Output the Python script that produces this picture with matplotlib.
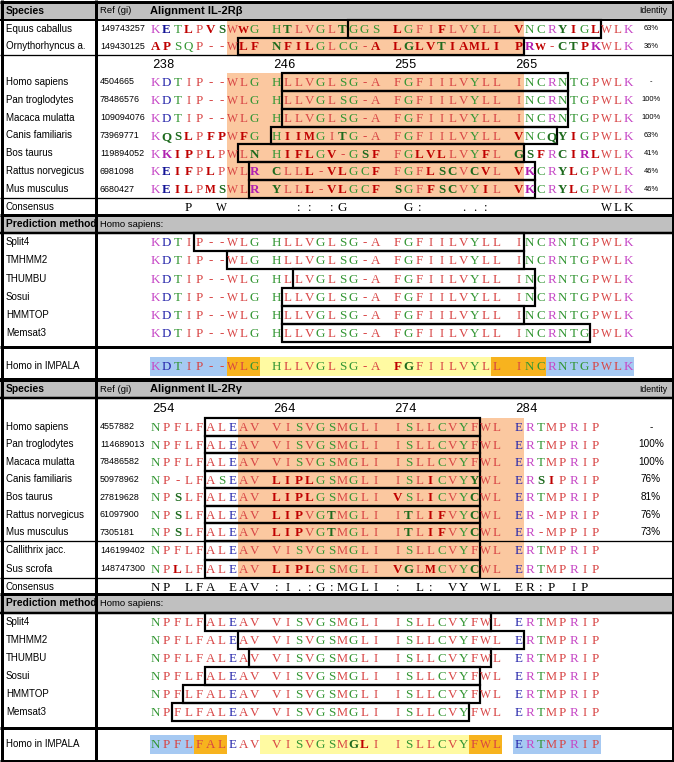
import matplotlib.pyplot as plt
from matplotlib.patches import Rectangle

# ---------------- IL-2R beta ----------------
beta_species = ['Equus caballus', 'Ornythorhyncus a.', 'Homo sapiens', 'Pan troglodytes',
                'Macaca mulatta', 'Canis familiaris', 'Bos taurus', 'Rattus norvegicus',
                'Mus musculus']
beta_refs = ['149743257', '149430125', '4504665', '78486576', '109094076', '73969771',
             '119894052', '6981098', '6680427']
beta_seqs = [
    'KETLPVSWWG HTLVGLTGGS LGFIFLVYLL VNCRYIGLWLK',
    'APSQP--WLF NFILGLCG-A LGLVTIAMLI PRW-CTPKWLK',
    'KDTIP--WLG HLLVGLSG-A FGFIILVYLL INCRNTGPWLK',
    'KDTIP--WLG HLLVGLSG-A FGFIILVYLL INCRNTGPWLK',
    'KDTIP--WLG HLLVGLSG-A FGFIILVYLL INCRNTGPWLK',
    'KQSLPFPWFG HIIMGITG-A FGFIILVYLL VNCQYIGPWLK',
    'KKIPPLPWLN HIFLGV-GSF FGLVLLVYFL GSFRCIRLWLK',
    'KEIFPLPWLR CLLL-VLGCF FGFLSCVCVL VKCRYLGPWLK',
    'KEILPMSWLR YLLL-VLGCF SGFFSCVYIL VKCRYLGPWLK',
]
# residue columns printed in bold (differences to human)
beta_bold = [
    [1, 3, 5, 6, 8, 12, 17, 22, 26, 33, 37, 38, 40],
    [0, 1, 8, 9, 11, 12, 13, 14, 20, 22, 23, 24, 25, 26, 27, 28, 29, 30, 31,
     33, 34, 35, 37, 38, 39, 40],
    [], [], [],
    [1, 2, 3, 5, 6, 8, 12, 13, 14, 17, 33, 36, 37, 38],
    [1, 2, 3, 5, 9, 12, 13, 14, 16, 19, 20, 24, 25, 26, 30, 33, 34, 35, 37, 38, 39, 40],
    [1, 2, 3, 5, 9, 11, 14, 16, 17, 20, 25, 26, 27, 29, 30, 33, 34, 37, 38],
    [1, 2, 3, 5, 6, 9, 11, 14, 16, 17, 20, 22, 25, 26, 27, 30, 33, 34, 37, 38],
]
beta_identity = ['63%', '36%', '-', '100%', '100%', '63%', '41%', '46%', '46%']
beta_tm = [(18, 41), (8, 34), (12, 38), (12, 38), (12, 38), (11, 37), (8, 34), (9, 35), (9, 35)]
beta_core = (7, 34)
beta_numbers = [(0, '238'), (11, '246'), (22, '255'), (33, '265')]
beta_consensus = '   P  W      :: :G     G:   ..:          WLK'
beta_human = 'KDTIP--WLG HLLVGLSG-A FGFIILVYLL INCRNTGPWLK'
beta_pred_tm = [(4, 34), (7, 34), (13, 35), (12, 35), (12, 34), (12, 40)]
beta_impala = [(0, 7, 'out'), (7, 10, 'edge'), (10, 31, 'core'), (31, 36, 'edge'), (36, 44, 'out')]
beta_impala_bold = [22, 23]

# ---------------- IL-2R gamma ----------------
gamma_species = ['Homo sapiens', 'Pan troglodytes', 'Macaca mulatta', 'Canis familiaris',
                 'Bos taurus', 'Rattus norvegicus', 'Mus musculus', 'Callithrix jacc.',
                 'Sus scrofa']
gamma_refs = ['4557882', '114689013', '78486582', '50978962', '27819628', '61097900',
              '7305181', '146199402', '148747300']
gamma_seqs = [
    'NPFLFALEAV VISVGSMGLI ISLLCVYFWL ERTMPRIP',
    'NPFLFALEAV VISVGSMGLI ISLLCVYFWL ERTMPRIP',
    'NPFLFALEAV VISVGSMGLI ISLLCVYFWL ERTMPRIP',
    'NP-LFASEAV LIPLGSMGLI ISLICVYYWL ERSIPRIP',
    'NPSLFALEAV LIPLGSMGLI VSLICVYCWL ERTMPRIP',
    'NPSLFALEAV LIPVGTMGLI ITLIFVYCWL ER-MPRIP',
    'NPSLFALEAV LIPVGTMGLI ITLIFVYCWL ER-MPPIP',
    'NPFLFALEAV VISVGSMGLI ISLLCVYFWL ERTMPRIP',
    'NPLLFALEAV LIPLGSMGLI VGLMCVYCWL ERTMPRIP',
]
gamma_bold = [
    [], [], [],
    [11, 12, 13, 14, 25, 29, 35, 36],
    [2, 11, 12, 13, 14, 22, 25, 29],
    [2, 11, 12, 13, 16, 23, 25, 26, 29],
    [2, 11, 12, 13, 16, 23, 25, 26, 29],
    [],
    [2, 11, 12, 13, 14, 22, 23, 25, 29],
]
gamma_identity = ['-', '100%', '100%', '76%', '81%', '76%', '73%', '', '']
gamma_tm = [(5, 30)] * 9
gamma_core = (8, 34)
gamma_numbers = [(0, '254'), (11, '264'), (22, '274'), (33, '284')]
gamma_consensus = 'NP LFA EAV :I.:G:MGLI : L: VY WL ER:P IP'
gamma_human = 'NPFLFALEAV VISVGSMGLI ISLLCVYFWL ERTMPRIP'
gamma_pred_tm = [(5, 31), (8, 34), (9, 31), (5, 30), (3, 30), (2, 29)]
gamma_impala = [(0, 4, 'out'), (4, 7, 'edge'), (10, 29, 'core'), (29, 32, 'edge'), (33, 41, 'out')]
gamma_impala_bold = [18, 19]

methods = ['Split4', 'TMHMM2', 'THUMBU', 'Sosui', 'HMMTOP', 'Memsat3']

# ---------------- styling ----------------
W, H = 674, 762
X0, PITCH = 150, 11
SEQ_FONT = 'Liberation Serif'
LAB_FONT = 'Liberation Sans'
GRAY = '#C0C0C0'
TM_FILL = '#FBC8A0'
IMPALA_COLORS = {'out': '#A6C9F2', 'edge': '#F7B31E', 'core': '#FFFAA2'}

REG = {'red': '#D84444', 'green': '#339633', 'blue': '#2828AC', 'mag': '#C647C6'}
BLD = {'red': '#BF0000', 'green': '#1D6A1D', 'blue': '#141496', 'mag': '#B020B0'}
GROUPS = {}
for aa in 'AVFPMILW-':
    GROUPS[aa] = 'red'
for aa in 'DE':
    GROUPS[aa] = 'blue'
for aa in 'RK':
    GROUPS[aa] = 'mag'
for aa in 'STYHCNGQ':
    GROUPS[aa] = 'green'

# wide glyphs get a smaller size so they stay inside one column
WIDE_SIZE = {('W', False): 8.4, ('M', False): 8.9, ('W', True): 7.9, ('M', True): 8.3}

fig = plt.figure(figsize=(W / 100, H / 100), dpi=100)
ax = fig.add_axes([0, 0, 1, 1])
ax.set_xlim(0, W)
ax.set_ylim(H, 0)
ax.axis('off')


def px(v):
    return v * 0.72


def cx(c):
    return X0 + c * PITCH


def draw_residues(yc, seq, bold=(), black=False):
    for i, ch in enumerate(seq):
        if ch == ' ':
            continue
        b = i in bold
        if black:
            col = 'black'
        else:
            g = GROUPS.get(ch, 'red')
            col = BLD[g] if b else REG[g]
        size = WIDE_SIZE.get((ch, b), 9.4)
        ax.text(cx(i) + PITCH / 2, yc + 4.2, ch, ha='center', va='baseline',
                fontsize=size, family=SEQ_FONT, color=col,
                fontweight='bold' if b else 'normal')


def label(x, y, s, size=7.0, **kw):
    return ax.text(x, y, s, ha=kw.pop('ha', 'left'), va='center', fontsize=size,
                   family=LAB_FONT, **kw)


def hline(y, lw):
    ax.plot([0, W], [y, y], color='black', lw=px(lw), solid_capstyle='butt')


clip_left = Rectangle((0, 0), 95, H, transform=ax.transData)


def header(y0, y1, left, mid, right=None, title=None):
    ax.add_patch(Rectangle((0, y0), W, y1 - y0, color=GRAY, lw=0))
    yc = (y0 + y1) / 2
    t = label(6, yc, left, size=7.4, fontweight='bold')
    t.set_clip_path(clip_left)
    label(100, yc, mid, size=6.8)
    if title:
        label(X0, yc, title, size=8, fontweight='bold')
    if right:
        label(667, yc, right, size=6.3, ha='right')


def alignment_rows(tops, h, species, refs, seqs, bold, ident, tm, core, id_size):
    for k, top in enumerate(tops):
        yc = top + h / 2
        ax.add_patch(Rectangle((cx(core[0]), top), (core[1] - core[0]) * PITCH, h,
                               color=TM_FILL, lw=0))
        label(6, yc, species[k])
        label(100, yc, refs[k], size=6.4)
        draw_residues(yc, seqs[k], bold[k])
        label(651, yc, ident[k], size=id_size, ha='center')
    for k, top in enumerate(tops):
        s, e = tm[k]
        ax.add_patch(Rectangle((cx(s), top), (e - s) * PITCH, h, fill=False,
                               ec='black', lw=px(2.2)))


def prediction_rows(top, h, human, pred_tm):
    for k, m in enumerate(methods):
        t = top + k * h
        yc = t + h / 2
        label(6, yc, m)
        draw_residues(yc, human)
        s, e = pred_tm[k]
        ax.add_patch(Rectangle((cx(s), t), (e - s) * PITCH, h, fill=False,
                               ec='black', lw=px(2.2)))


def impala_row(yc, human, spans, bold):
    for s, e, kind in spans:
        ax.add_patch(Rectangle((cx(s), yc - 9.5), (e - s) * PITCH, 19,
                               color=IMPALA_COLORS[kind], lw=0))
    label(6, yc, 'Homo in IMPALA')
    draw_residues(yc, human, bold)


def numbers_row(yc, numbers):
    for c, s in numbers:
        ax.text(cx(c) + 2, yc + 4, s, ha='left', va='baseline', fontsize=9,
                family='Liberation Mono', color='black')


# ---------- IL-2R beta block ----------
header(2, 19.5, 'Species', 'Ref (gi)', 'Identity', 'Alignment IL-2R\u03b2')
alignment_rows([20, 37.5], 17.5, beta_species[:2], beta_refs[:2], beta_seqs[:2],
               beta_bold[:2], beta_identity[:2], beta_tm[:2], beta_core, 5.4)
numbers_row(64, beta_numbers)
hB = (198 - 73) / 7
alignment_rows([73 + k * hB for k in range(7)], hB, beta_species[2:], beta_refs[2:],
               beta_seqs[2:], beta_bold[2:], beta_identity[2:], beta_tm[2:], beta_core, 5.4)
label(6, 207, 'Consensus')
draw_residues(207, beta_consensus, black=True)
header(216, 232.5, 'Prediction method', 'Homo sapiens:')
prediction_rows(233, 18.2, beta_human, beta_pred_tm)
impala_row(366, beta_human, beta_impala, beta_impala_bold)

# ---------- IL-2R gamma block ----------
header(381.5, 397.5, 'Species', 'Ref (gi)', 'Identity', 'Alignment IL-2R\u03b3')
numbers_row(408, gamma_numbers)
hG = (541 - 418) / 7
alignment_rows([418 + k * hG for k in range(7)], hG, gamma_species[:7], gamma_refs[:7],
               gamma_seqs[:7], gamma_bold[:7], gamma_identity[:7], gamma_tm[:7],
               gamma_core, 7.2)
alignment_rows([541, 559.5], 18.5, gamma_species[7:], gamma_refs[7:], gamma_seqs[7:],
               gamma_bold[7:], gamma_identity[7:], gamma_tm[7:], gamma_core, 7.2)
label(6, 587, 'Consensus')
draw_residues(587, gamma_consensus, black=True)
header(595, 611.5, 'Prediction method', 'Homo sapiens:')
prediction_rows(613, 18, gamma_human, gamma_pred_tm)
impala_row(744, gamma_human, gamma_impala, gamma_impala_bold)

# ---------- grid lines ----------
for y, lw in [(1.5, 3), (19.5, 2), (55, 1.3), (198, 1.3), (215, 3), (233, 2.5),
              (347, 3), (380, 4), (398, 2.5), (541, 1.3), (578, 1.3), (594, 3),
              (612.5, 2.5), (728, 3), (760.5, 3)]:
    hline(y, lw)
for x in [1.5, 96, 672.5]:
    ax.plot([x, x], [0, H], color='black', lw=px(3), solid_capstyle='butt')

fig.savefig('out.png', dpi=100)
